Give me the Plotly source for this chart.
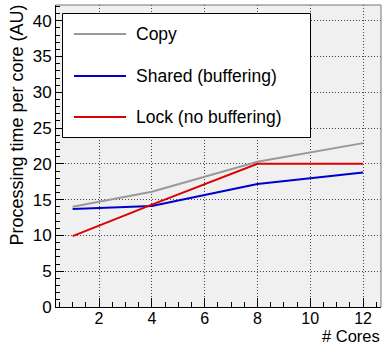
import plotly.graph_objects as go

cores = [1, 4, 8, 12]
copy_vals = [14.0, 16.1, 20.3, 22.9]
shared_vals = [13.7, 14.1, 17.2, 18.8]
lock_vals = [9.9, 14.3, 20.0, 20.0]
series_names = ["Copy", "Shared (buffering)", "Lock (no buffering)"]
series_colors = ["#999999", "#0000cc", "#dd0000"]
x_ticks = [2, 4, 6, 8, 10, 12]
y_ticks = [0, 5, 10, 15, 20, 25, 30, 35, 40]

FONT = "Liberation Sans, Arial, sans-serif"
fig = go.Figure()
for name, vals, col in zip(series_names, [copy_vals, shared_vals, lock_vals], series_colors):
    fig.add_trace(go.Scatter(x=cores, y=vals, mode="lines", name=name,
                             line=dict(color=col, width=2), showlegend=False))

W, H = 382, 346
L, R, T, B = 56, 1, 5, 39
pw, ph = W - L - R, H - T - B

fig.update_layout(
    width=W, height=H,
    margin=dict(l=L, r=R, t=T, b=B),
    paper_bgcolor="white", plot_bgcolor="#f0f0f0",
    font=dict(family=FONT, size=17, color="black"),
    showlegend=False,
)
fig.update_xaxes(range=[0.37, 12.68], tickvals=x_ticks, ticks="inside", ticklen=9,
                 tickcolor="black", showline=True, linecolor="black", linewidth=1,
                 showgrid=True, gridcolor="#444444", griddash="1px,2px", gridwidth=1,
                 zeroline=False, tickfont=dict(size=16), ticklabelstandoff=-3,
                 minor=dict(dtick=0.5, ticks="inside", ticklen=5, tickcolor="black", showgrid=False))
fig.update_yaxes(range=[0, 42.2], tickvals=y_ticks, ticks="inside", ticklen=8,
                 tickcolor="black", showline=True, linecolor="black", linewidth=1,
                 showgrid=True, gridcolor="#444444", griddash="1px,2px", gridwidth=1,
                 zeroline=False, tickfont=dict(size=17),
                 minor=dict(dtick=1, ticks="inside", ticklen=4, tickcolor="black", showgrid=False))

# frame top/right
fig.add_shape(type="line", xref="paper", yref="paper", x0=0, x1=1, y0=1, y1=1,
              line=dict(color="#777777", width=1))
fig.add_shape(type="line", xref="paper", yref="paper", x0=1, x1=1, y0=0, y1=1,
              line=dict(color="#777777", width=1))

def px(xp):
    return (xp - L) / pw
def py(yp):
    return 1 - (yp - T) / ph

# legend box
fig.add_shape(type="rect", xref="paper", yref="paper",
              x0=px(62.5), x1=px(310.5), y0=py(137.5), y1=py(13.5),
              fillcolor="white", line=dict(color="black", width=1))
for i, (name, col) in enumerate(zip(series_names, series_colors)):
    yy = [34, 76, 117][i]
    fig.add_shape(type="line", xref="paper", yref="paper",
                  x0=px(74), x1=px(126), y0=py(yy), y1=py(yy),
                  line=dict(color=col, width=2))
    fig.add_annotation(text=name, xref="paper", yref="paper", x=px(134), y=py(yy),
                       xanchor="left", yanchor="middle", showarrow=False,
                       font=dict(size=17.5, family=FONT, color="black"))

fig.add_annotation(text="Processing time per core (AU)", xref="paper", yref="paper",
                   x=px(17), y=py(3), xanchor="center", yanchor="top", textangle=-90,
                   showarrow=False, font=dict(size=18, family=FONT, color="black"))
fig.add_annotation(text="# Cores", xref="paper", yref="paper",
                   x=px(381), y=py(346), xanchor="right", yanchor="bottom",
                   borderpad=0, showarrow=False,
                   font=dict(size=16.5, family=FONT, color="black"))

fig.write_html("out.html")
